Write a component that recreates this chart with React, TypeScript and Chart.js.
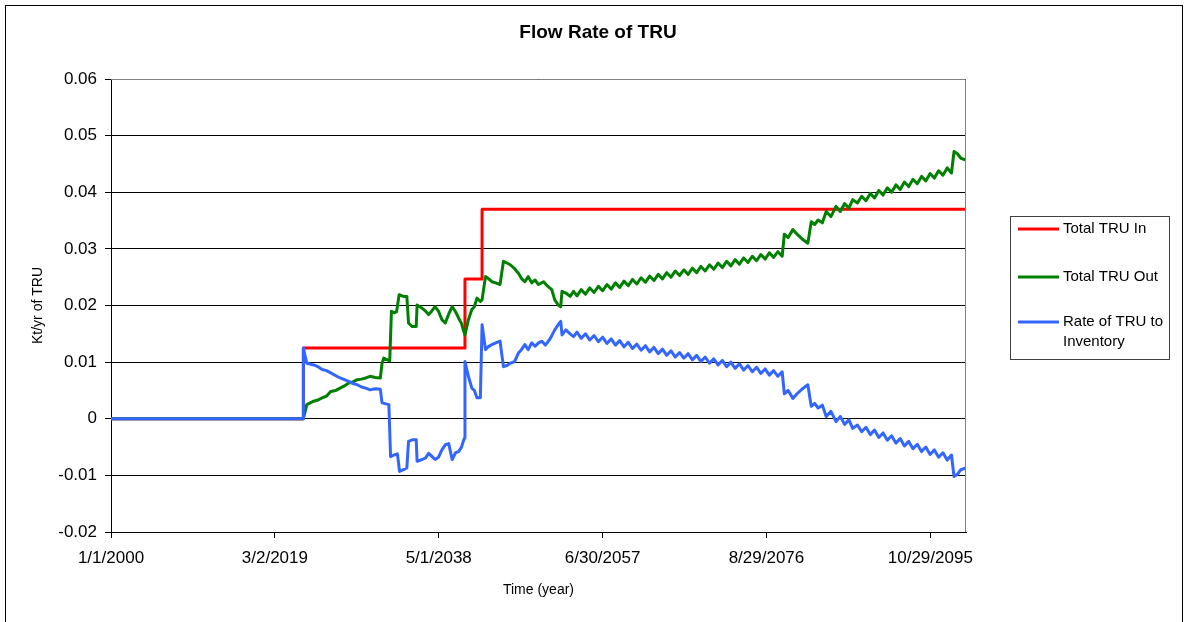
import React, { useEffect, useRef } from "react";
import { Chart, registerables } from "chart.js";

Chart.register(...registerables);

// ---------- text ----------
const chartTitle = "Flow Rate of TRU";
const xAxisTitle = "Time (year)";
const yAxisTitle = "Kt/yr of TRU";
const xTickLabels = ["1/1/2000", "3/2/2019", "5/1/2038", "6/30/2057", "8/29/2076", "10/29/2095"];
const yMin = -0.02;
const yMax = 0.06;
const yStep = 0.01;
const seriesNames = ["Total TRU In", "Total TRU Out", "Rate of TRU to Inventory"];
const seriesColors = ["#FF0000", "#008000", "#3366FF"];

// ---------- data: [year, Kt/yr] ----------
const totalIn: [number, number][] = [
  [2000, 0], [2022.5, 0], [2022.5, 0.0125], [2041.4, 0.0125], [2041.4, 0.0247],
  [2043.4, 0.0247], [2043.4, 0.037], [2100, 0.037],
];

const totalOut: [number, number][] = [
  [2000, 0], [2022.5, 0], [2022.9, 0.0025], [2023.7, 0.0031], [2024.2, 0.0033], [2024.7, 0.0037],
  [2025.2, 0.004], [2025.7, 0.0048], [2026.3, 0.005], [2026.8, 0.0054], [2027.3, 0.0058], [2027.8, 0.0063],
  [2028.3, 0.0065], [2028.8, 0.0069], [2029.3, 0.007], [2029.8, 0.0072], [2030.3, 0.0075], [2030.9, 0.0073],
  [2031.5, 0.0072], [2031.7, 0.0098], [2031.9, 0.0107], [2032.6, 0.0102], [2032.8, 0.019], [2033.1, 0.0187],
  [2033.4, 0.0189], [2033.7, 0.0219], [2034.2, 0.0216], [2034.6, 0.0216], [2034.8, 0.0169], [2035.2, 0.0163],
  [2035.7, 0.0163], [2035.8, 0.0201], [2036.4, 0.0195], [2036.8, 0.019], [2037.15, 0.0184], [2037.5, 0.019],
  [2037.9, 0.0198], [2038.3, 0.019], [2038.7, 0.0175], [2039.1, 0.0169], [2039.5, 0.0185], [2039.9, 0.0198],
  [2040.3, 0.0189], [2040.65, 0.0178], [2041.0, 0.0168], [2041.2, 0.0157], [2041.4, 0.0148], [2041.8, 0.0175],
  [2042.2, 0.0193], [2042.5, 0.0198], [2042.8, 0.0213], [2043.2, 0.0207], [2043.4, 0.021], [2043.8, 0.0251],
  [2044.1, 0.0248], [2044.55, 0.0242], [2045.0, 0.024], [2045.5, 0.0237], [2045.9, 0.0278], [2046.3, 0.0275],
  [2046.7, 0.0272], [2047.2, 0.0265], [2047.65, 0.0257], [2048.0, 0.0248], [2048.4, 0.0242], [2048.8, 0.0251],
  [2049.2, 0.024], [2049.6, 0.0245], [2050.0, 0.0237], [2050.6, 0.0242], [2051.0, 0.0235], [2051.55, 0.0228],
  [2051.9, 0.021], [2052.3, 0.0201], [2052.6, 0.0198], [2052.75, 0.0225], [2053.2, 0.0222], [2053.7, 0.0216],
  [2054.1, 0.0225], [2054.5, 0.0217], [2055, 0.0228], [2055.5, 0.022], [2056, 0.0231], [2056.5, 0.0223],
  [2057, 0.0234], [2057.5, 0.0226], [2058, 0.0237], [2058.5, 0.0229], [2059, 0.024], [2059.5, 0.0232],
  [2060, 0.0243], [2060.5, 0.0235], [2061, 0.0246], [2061.5, 0.0238], [2062, 0.0249], [2062.5, 0.0241],
  [2063, 0.0252], [2063.5, 0.0244], [2064, 0.0255], [2064.5, 0.0247], [2065, 0.0258], [2065.5, 0.025],
  [2066, 0.0261], [2066.5, 0.0253], [2067, 0.0263], [2067.5, 0.0255], [2068, 0.0266], [2068.5, 0.0258],
  [2069, 0.0269], [2069.5, 0.0261], [2070, 0.0272], [2070.5, 0.0264], [2071, 0.0275], [2071.5, 0.0267],
  [2072, 0.0278], [2072.5, 0.027], [2073, 0.0281], [2073.5, 0.0273], [2074, 0.0284], [2074.5, 0.0276],
  [2075, 0.0287], [2075.5, 0.0279], [2076, 0.029], [2076.5, 0.0282], [2077, 0.0293], [2077.5, 0.0285],
  [2078, 0.0295], [2078.5, 0.0287], [2078.75, 0.0326], [2079.2, 0.032], [2079.75, 0.0334], [2080.3, 0.0325],
  [2080.8, 0.0318], [2081.5, 0.031], [2081.9, 0.0348], [2082.3, 0.0343], [2082.7, 0.0351], [2083.2, 0.0346],
  [2083.65, 0.0366], [2084.2, 0.0357], [2084.8, 0.0375], [2085.3, 0.0366], [2085.8, 0.038], [2086.3, 0.0372],
  [2086.75, 0.0387], [2087.3, 0.0381], [2087.8, 0.0393], [2088.3, 0.0385], [2088.8, 0.0398], [2089.3, 0.039],
  [2089.8, 0.0403], [2090.3, 0.0395], [2090.8, 0.0408], [2091.3, 0.04], [2091.8, 0.0413], [2092.3, 0.0405],
  [2092.8, 0.0418], [2093.3, 0.041], [2093.8, 0.0423], [2094.3, 0.0415], [2094.8, 0.0428], [2095.3, 0.042],
  [2095.8, 0.0433], [2096.3, 0.0425], [2096.8, 0.0438], [2097.3, 0.043], [2097.8, 0.0443], [2098.3, 0.0434],
  [2098.6, 0.0472], [2099.0, 0.0468], [2099.4, 0.046], [2100, 0.0457],
];

const toInventory: [number, number][] = [
  [2000, 0], [2022.5, 0], [2022.5, 0.0125], [2022.9, 0.0098], [2023.7, 0.0095], [2024.2, 0.0092],
  [2024.7, 0.0087], [2025.2, 0.0085], [2025.7, 0.0081], [2026.3, 0.0076], [2026.8, 0.0072], [2027.3, 0.0069],
  [2027.8, 0.0066], [2028.3, 0.0062], [2028.8, 0.006], [2029.3, 0.0056], [2029.8, 0.0054], [2030.3, 0.0051],
  [2030.9, 0.0053], [2031.5, 0.0052], [2031.7, 0.0028], [2032.5, 0.0025], [2032.7, -0.0067], [2033.1, -0.0064],
  [2033.5, -0.0062], [2033.75, -0.0093], [2034.2, -0.009], [2034.6, -0.0087], [2034.8, -0.004], [2035.3, -0.0037],
  [2035.7, -0.0037], [2035.8, -0.0075], [2036.4, -0.0072], [2036.8, -0.0069], [2037.15, -0.0061], [2037.5, -0.0066],
  [2037.9, -0.0072], [2038.3, -0.0068], [2038.7, -0.0055], [2039.1, -0.0046], [2039.5, -0.0044], [2039.9, -0.0072],
  [2040.3, -0.006], [2040.65, -0.0058], [2041.0, -0.005], [2041.2, -0.004], [2041.35, -0.0034], [2041.4, 0.0101],
  [2041.8, 0.0075], [2042.2, 0.0054], [2042.5, 0.005], [2042.8, 0.0037], [2043.2, 0.0037], [2043.4, 0.0166],
  [2043.8, 0.0122], [2044.1, 0.0127], [2044.55, 0.0131], [2045.0, 0.0134], [2045.5, 0.0137], [2045.9, 0.0092],
  [2046.3, 0.0094], [2046.7, 0.0098], [2047.2, 0.0101], [2047.65, 0.0116], [2048.0, 0.0122], [2048.4, 0.0131],
  [2048.8, 0.0122], [2049.2, 0.0134], [2049.6, 0.0128], [2050.0, 0.0134], [2050.4, 0.0137], [2050.8, 0.013],
  [2051.3, 0.014], [2051.6, 0.0148], [2051.9, 0.0157], [2052.3, 0.0166], [2052.6, 0.0172], [2052.75, 0.0148],
  [2053.2, 0.0157], [2053.7, 0.015], [2054.1, 0.0145], [2054.5, 0.0153], [2055, 0.0142], [2055.5, 0.015],
  [2056, 0.0139], [2056.5, 0.0147], [2057, 0.0136], [2057.5, 0.0144], [2058, 0.0133], [2058.5, 0.0141],
  [2059, 0.013], [2059.5, 0.0138], [2060, 0.0127], [2060.5, 0.0135], [2061, 0.0124], [2061.5, 0.0132],
  [2062, 0.0121], [2062.5, 0.0129], [2063, 0.0118], [2063.5, 0.0126], [2064, 0.0115], [2064.5, 0.0123],
  [2065, 0.0112], [2065.5, 0.012], [2066, 0.0109], [2066.5, 0.0117], [2067, 0.0107], [2067.5, 0.0115],
  [2068, 0.0104], [2068.5, 0.0112], [2069, 0.0101], [2069.5, 0.0109], [2070, 0.0098], [2070.5, 0.0106],
  [2071, 0.0095], [2071.5, 0.0103], [2072, 0.0092], [2072.5, 0.01], [2073, 0.0089], [2073.5, 0.0097],
  [2074, 0.0086], [2074.5, 0.0094], [2075, 0.0083], [2075.5, 0.0091], [2076, 0.008], [2076.5, 0.0088],
  [2077, 0.0077], [2077.5, 0.0085], [2078, 0.0075], [2078.5, 0.0083], [2078.75, 0.0044], [2079.2, 0.005],
  [2079.75, 0.0036], [2080.3, 0.0045], [2080.8, 0.0052], [2081.5, 0.006], [2081.9, 0.0022], [2082.3, 0.0027],
  [2082.7, 0.0019], [2083.2, 0.0024], [2083.65, 0.0004], [2084.2, 0.0013], [2084.8, -0.0005], [2085.3, 0.0004],
  [2085.8, -0.001], [2086.3, -0.0002], [2086.75, -0.0017], [2087.3, -0.0011], [2087.8, -0.0023], [2088.3, -0.0015],
  [2088.8, -0.0028], [2089.3, -0.002], [2089.8, -0.0033], [2090.3, -0.0025], [2090.8, -0.0038], [2091.3, -0.003],
  [2091.8, -0.0043], [2092.3, -0.0035], [2092.8, -0.0048], [2093.3, -0.004], [2093.8, -0.0053], [2094.3, -0.0045],
  [2094.8, -0.0058], [2095.3, -0.005], [2095.8, -0.0063], [2096.3, -0.0055], [2096.8, -0.0068], [2097.3, -0.006],
  [2097.8, -0.0073], [2098.3, -0.0064], [2098.6, -0.0102], [2099.0, -0.0098], [2099.4, -0.009], [2100, -0.0087],
];

const seriesData = [totalIn, totalOut, toInventory];

// tick positions derived from the date labels (fractional years)
function labelToYear(label: string): number {
  const [m, d, y] = label.split("/").map(Number);
  const days = (Date.UTC(y, m - 1, d) - Date.UTC(2000, 0, 1)) / 86400000;
  return 2000 + days / 365.25;
}
const xTickYears = xTickLabels.map(labelToYear);

const FONT = "'Liberation Sans', Arial, Helvetica, sans-serif";

function wrapText(ctx: CanvasRenderingContext2D, text: string, maxW: number): string[] {
  const words = text.split(" ");
  const lines: string[] = [];
  let cur = "";
  for (const w of words) {
    const test = cur ? cur + " " + w : w;
    if (ctx.measureText(test).width > maxW && cur) {
      lines.push(cur);
      cur = w;
    } else {
      cur = test;
    }
  }
  if (cur) lines.push(cur);
  return lines;
}

const decorPlugin = {
  id: "decor",
  afterDraw(chart: any) {
    const { ctx, chartArea: a } = chart;
    ctx.save();
    // plot-area border (top / right) in gray
    ctx.strokeStyle = "#808080";
    ctx.lineWidth = 1;
    ctx.beginPath();
    ctx.moveTo(a.left, Math.round(a.top) + 0.5);
    ctx.lineTo(Math.round(a.right) - 0.5, Math.round(a.top) + 0.5);
    ctx.lineTo(Math.round(a.right) - 0.5, a.bottom);
    ctx.stroke();

    // outer frame
    ctx.strokeStyle = "#000";
    ctx.strokeRect(5.5, 5.5, 1177, 700);

    // title
    ctx.fillStyle = "#000";
    ctx.font = `bold 19px ${FONT}`;
    ctx.textAlign = "center";
    ctx.textBaseline = "middle";
    ctx.fillText(chartTitle, 598, 33);

    // legend
    const lx = 1010, ly = 216, lw = 159, lh = 143;
    ctx.strokeStyle = "#404040";
    ctx.lineWidth = 1;
    ctx.strokeRect(lx + 0.5, ly + 0.5, lw, lh);
    const rowY = [229, 277, 322];
    ctx.font = `15px ${FONT}`;
    ctx.textAlign = "left";
    chart.data.datasets.forEach((ds: any, i: number) => {
      ctx.strokeStyle = ds.borderColor;
      ctx.lineWidth = 3;
      ctx.beginPath();
      ctx.moveTo(1018, rowY[i]);
      ctx.lineTo(1059, rowY[i]);
      ctx.stroke();
      ctx.fillStyle = "#000";
      const lines = wrapText(ctx, ds.label, 104);
      lines.forEach((t, k) => ctx.fillText(t, 1063, rowY[i] + k * 20));
    });
    ctx.restore();
  },
};

export default function App() {
  const canvasRef = useRef<HTMLCanvasElement | null>(null);

  useEffect(() => {
    const canvas = canvasRef.current;
    if (!canvas) return;
    const chart = new Chart(canvas, {
      type: "line",
      data: {
        datasets: seriesData.map((s, i) => ({
          label: seriesNames[i],
          data: s.map(([x, y]) => ({ x, y })),
          borderColor: seriesColors[i],
          backgroundColor: seriesColors[i],
          borderWidth: 3,
          pointRadius: 0,
          pointHoverRadius: 0,
          tension: 0,
          fill: false,
          borderJoinStyle: "round" as const,
          borderCapStyle: "round" as const,
          order: 3 - i,
        })),
      },
      options: {
        responsive: false,
        animation: false,
        devicePixelRatio: 1,
        events: [],
        layout: { padding: { left: 25, top: 79, right: 222, bottom: 19 } },
        plugins: {
          legend: { display: false },
          title: { display: false },
          tooltip: { enabled: false },
        },
        scales: {
          x: {
            type: "linear",
            min: 2000,
            max: 2100,
            afterFit: (s: any) => {
              s.height = 71;
            },
            afterBuildTicks: (s: any) => {
              s.ticks = xTickYears.map((v) => ({ value: v }));
            },
            ticks: {
              autoSkip: false,
              maxRotation: 0,
              minRotation: 0,
              padding: 10,
              color: "#000",
              font: { family: FONT, size: 17 },
              callback: (_v: any, i: number) => xTickLabels[i],
            },
            grid: {
              drawOnChartArea: false,
              drawTicks: true,
              tickLength: 6,
              tickColor: "#000",
              color: "#000",
            },
            border: { color: "#000", width: 1 },
            title: {
              display: true,
              text: xAxisTitle,
              color: "#000",
              font: { family: FONT, size: 14 },
              padding: { top: 0, bottom: 4 },
            },
          },
          y: {
            type: "linear",
            min: yMin,
            max: yMax,
            afterFit: (s: any) => {
              s.width = 86;
            },
            ticks: {
              stepSize: yStep,
              padding: 8,
              color: "#000",
              font: { family: FONT, size: 17 },
              callback: (v: any) => String(Math.round(Number(v) * 100) / 100),
            },
            grid: {
              color: "#000",
              lineWidth: 1,
              drawTicks: true,
              tickLength: 6,
              tickColor: "#000",
            },
            border: { color: "#000", width: 1 },
            title: {
              display: true,
              text: yAxisTitle,
              color: "#000",
              font: { family: FONT, size: 14 },
              padding: { top: 5, bottom: 0 },
            },
          },
        },
      },
      plugins: [decorPlugin],
    } as any);
    return () => chart.destroy();
  }, []);

  return (
    <div style={{ position: "absolute", left: 0, top: 0, width: 1188, height: 622, background: "#fff", overflow: "hidden" }}>
      <canvas ref={canvasRef} width={1188} height={622} style={{ display: "block" }} />
    </div>
  );
}
